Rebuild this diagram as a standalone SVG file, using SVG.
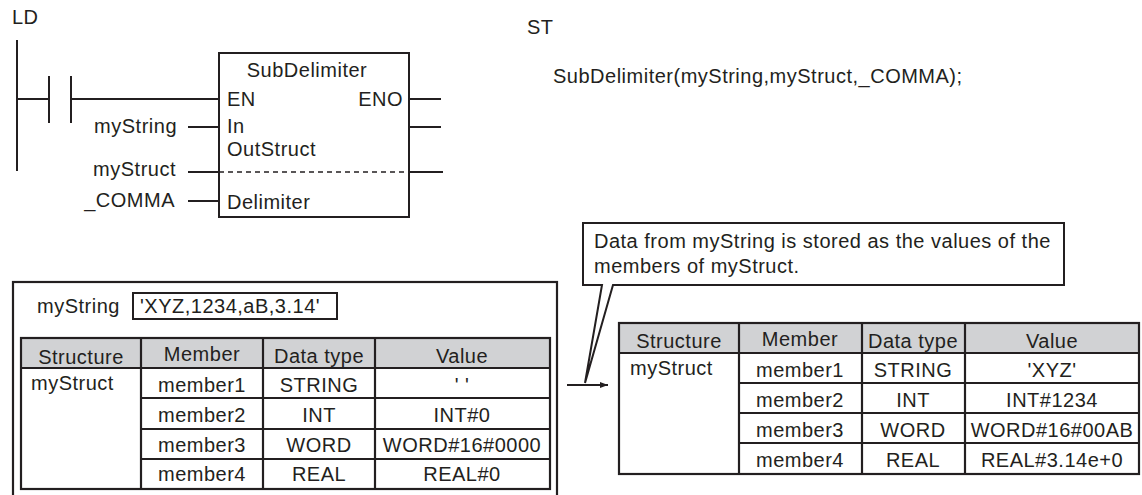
<svg xmlns="http://www.w3.org/2000/svg" width="1142" height="495" viewBox="0 0 1142 495">
<defs>
<style>
text{font-family:"Liberation Sans",Arial,sans-serif;font-size:20px;fill:#231f20;letter-spacing:0.5px}
.m{text-anchor:middle}
.e{text-anchor:end}
.ln{stroke:#231f20;stroke-width:2;fill:none}
.tb{stroke:#231f20;stroke-width:2.2;fill:none}
.hd{fill:#d1d2d4;stroke:none}
</style>
<marker id="ah" markerWidth="8" markerHeight="6" refX="8" refY="3" orient="auto" markerUnits="userSpaceOnUse">
<path d="M0,0 L8,3 L0,6 Z" fill="#231f20"/>
</marker>
</defs>
<rect width="1142" height="495" fill="#fff"/>

<text x="12" y="24">LD</text>
<text x="527" y="34">ST</text>
<text x="553" y="83">SubDelimiter(myString,myStruct,_COMMA);</text>

<g id="connectors">
<line class="ln" x1="17" y1="40" x2="17" y2="171"/>
<line class="ln" x1="17" y1="99" x2="49" y2="99"/>
<line class="ln" x1="49" y1="76" x2="49" y2="123"/>
<line class="ln" x1="71" y1="76" x2="71" y2="123"/>
<line class="ln" x1="71" y1="99" x2="219" y2="99"/>
<line class="ln" x1="188" y1="127" x2="219" y2="127"/>
<line class="ln" x1="188" y1="172" x2="219" y2="172"/>
<line class="ln" x1="188" y1="201" x2="219" y2="201"/>
<line class="ln" x1="409" y1="99" x2="441" y2="99"/>
<line class="ln" x1="409" y1="127" x2="441" y2="127"/>
<line class="ln" x1="409" y1="172" x2="443" y2="172"/>
<line class="ln" stroke-width="1.5" x1="567" y1="385" x2="608" y2="385" marker-end="url(#ah)"/>
</g>

<g id="fb-SubDelimiter">
<rect class="ln" x="219" y="53" width="190" height="164"/>
<line x1="219" y1="172" x2="409" y2="172" stroke="#231f20" stroke-width="1.5" stroke-dasharray="5,4"/>
<text class="m" x="307" y="77">SubDelimiter</text>
<text x="227" y="106">EN</text>
<text class="e" x="403" y="106">ENO</text>
<text x="227" y="133">In</text>
<text x="227" y="156">OutStruct</text>
<text x="227" y="209">Delimiter</text>
</g>

<g id="ld-vars">
<text class="e" x="177" y="133">myString</text>
<text class="e" x="176" y="176">myStruct</text>
<text class="e" x="175" y="207">_COMMA</text>
</g>

<g id="before">
<rect class="tb" x="13" y="282" width="544" height="220"/>
<text x="37" y="313">myString</text>
<rect class="ln" x="133" y="293" width="204" height="26"/>
<text x="140" y="313">'XYZ,1234,aB,3.14'</text>
<rect class="hd" x="21" y="338" width="529" height="30"/>
<g class="tb">
<rect x="21" y="338" width="529" height="151"/>
<line x1="21" y1="368" x2="550" y2="368"/>
<line x1="141" y1="398" x2="550" y2="398"/>
<line x1="141" y1="429" x2="550" y2="429"/>
<line x1="141" y1="459" x2="550" y2="459"/>
<line x1="141" y1="338" x2="141" y2="489"/>
<line x1="263" y1="338" x2="263" y2="489"/>
<line x1="375" y1="338" x2="375" y2="489"/>
</g>
<text class="m" x="81" y="364">Structure</text>
<text class="m" x="202" y="361">Member</text>
<text class="m" x="319" y="363">Data type</text>
<text class="m" x="462" y="363">Value</text>
<text x="31" y="390">myStruct</text>
<text class="m" x="202" y="392">member1</text>
<text class="m" x="202" y="422">member2</text>
<text class="m" x="202" y="452">member3</text>
<text class="m" x="202" y="481">member4</text>
<text class="m" x="319" y="392">STRING</text>
<text class="m" x="319" y="422">INT</text>
<text class="m" x="319" y="452">WORD</text>
<text class="m" x="319" y="481">REAL</text>
<text class="m" x="462" y="392">' '</text>
<text class="m" x="462" y="422">INT#0</text>
<text class="m" x="462" y="452">WORD#16#0000</text>
<text class="m" x="462" y="481">REAL#0</text>
</g>

<g id="callout">
<path class="ln" d="M602,285 L583,285 L583,223 L1064,223 L1064,285 L613,285 L585,383 Z" fill="#fff"/>
<text x="594" y="248">Data from myString is stored as the values of the</text>
<text x="594" y="273">members of myStruct.</text>
</g>

<g id="after">
<rect class="hd" x="619" y="323" width="520" height="30"/>
<g class="tb">
<rect x="619" y="323" width="520" height="151"/>
<line x1="619" y1="353" x2="1139" y2="353"/>
<line x1="739" y1="383" x2="1139" y2="383"/>
<line x1="739" y1="413" x2="1139" y2="413"/>
<line x1="739" y1="443" x2="1139" y2="443"/>
<line x1="739" y1="323" x2="739" y2="474"/>
<line x1="862" y1="323" x2="862" y2="474"/>
<line x1="965" y1="323" x2="965" y2="474"/>
</g>
<text class="m" x="679" y="348">Structure</text>
<text class="m" x="800" y="346">Member</text>
<text class="m" x="913" y="348">Data type</text>
<text class="m" x="1052" y="348">Value</text>
<text x="630" y="375">myStruct</text>
<text class="m" x="800" y="377">member1</text>
<text class="m" x="800" y="407">member2</text>
<text class="m" x="800" y="437">member3</text>
<text class="m" x="800" y="467">member4</text>
<text class="m" x="913" y="377">STRING</text>
<text class="m" x="913" y="407">INT</text>
<text class="m" x="913" y="437">WORD</text>
<text class="m" x="913" y="467">REAL</text>
<text class="m" x="1052" y="377">'XYZ'</text>
<text class="m" x="1052" y="407">INT#1234</text>
<text class="m" x="1052" y="437">WORD#16#00AB</text>
<text class="m" x="1052" y="467">REAL#3.14e+0</text>
</g>
</svg>
